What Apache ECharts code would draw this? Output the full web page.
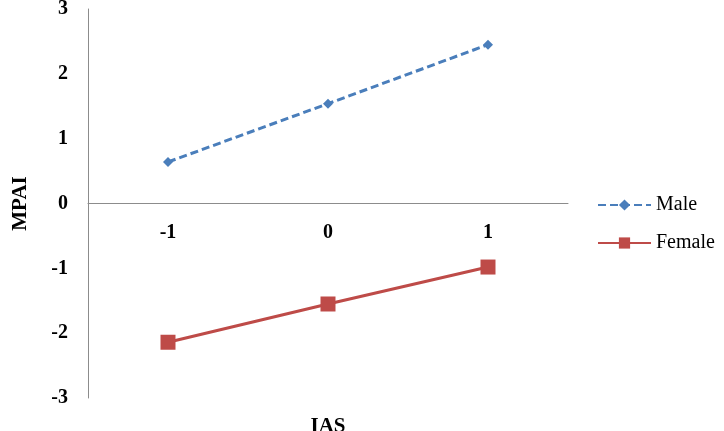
<!DOCTYPE html>
<html>
<head>
<meta charset="utf-8">
<script src="https://cdn.jsdelivr.net/npm/echarts@6/dist/echarts.min.js"></script>
<style>
  html, body { margin: 0; padding: 0; background: #fff; }
  #chart { width: 724px; height: 431px; }
</style>
</head>
<body>
<div id="chart"></div>
<script>
  // data
  var iasLevels = ['-1', '0', '1'];
  var maleValues = [0.64, 1.54, 2.45];
  var femaleValues = [-2.14, -1.55, -0.98];

  var chart = echarts.init(document.getElementById('chart'));
  var serif = '"Liberation Serif", "Times New Roman", serif';

  chart.setOption({
    animation: false,
    backgroundColor: '#fff',
    grid: { left: 88, right: 156, top: 9, bottom: 33, containLabel: false, outerBoundsMode: 'none' },
    legend: {
      orient: 'vertical',
      left: 592,
      top: 190,
      itemWidth: 53,
      itemHeight: 14,
      itemGap: 18,
      textStyle: { fontFamily: serif, fontSize: 20, color: '#000' },
      data: ['Male', 'Female']
    },
    xAxis: {
      type: 'category',
      data: iasLevels,
      name: 'IAS',
      nameLocation: 'middle',
      nameGap: 18,
      nameTextStyle: { fontFamily: serif, fontSize: 21, fontWeight: 'bold', color: '#000' },
      axisLine: { onZero: true, lineStyle: { color: '#8c8c8c', width: 1 } },
      axisTick: { show: false },
      // labels sit just under the zero line, not at the bottom of the grid
      axisLabel: { margin: -175, fontFamily: serif, fontSize: 20, fontWeight: 'bold', color: '#000' }
    },
    yAxis: {
      type: 'value',
      min: -3,
      max: 3,
      interval: 1,
      name: 'MPAI',
      nameLocation: 'middle',
      nameRotate: 90,
      nameGap: 57,
      nameTextStyle: { fontFamily: serif, fontSize: 21, fontWeight: 'bold', color: '#000' },
      axisLine: { show: true, lineStyle: { color: '#8c8c8c', width: 1 } },
      axisTick: { show: false },
      splitLine: { show: false },
      axisLabel: { margin: 20, fontFamily: serif, fontSize: 20, fontWeight: 'bold', color: '#000' }
    },
    series: [
      {
        name: 'Male',
        type: 'line',
        data: maleValues,
        symbol: 'diamond',
        symbolSize: 10,
        color: '#4a7ebb',
        lineStyle: { type: [8, 4], width: 3, color: '#4a7ebb' },
        itemStyle: { color: '#4a7ebb' }
      },
      {
        name: 'Female',
        type: 'line',
        data: femaleValues,
        symbol: 'rect',
        symbolSize: 15,
        color: '#be4b48',
        lineStyle: { width: 3, color: '#be4b48' },
        itemStyle: { color: '#be4b48' }
      }
    ]
  });
</script>
</body>
</html>
